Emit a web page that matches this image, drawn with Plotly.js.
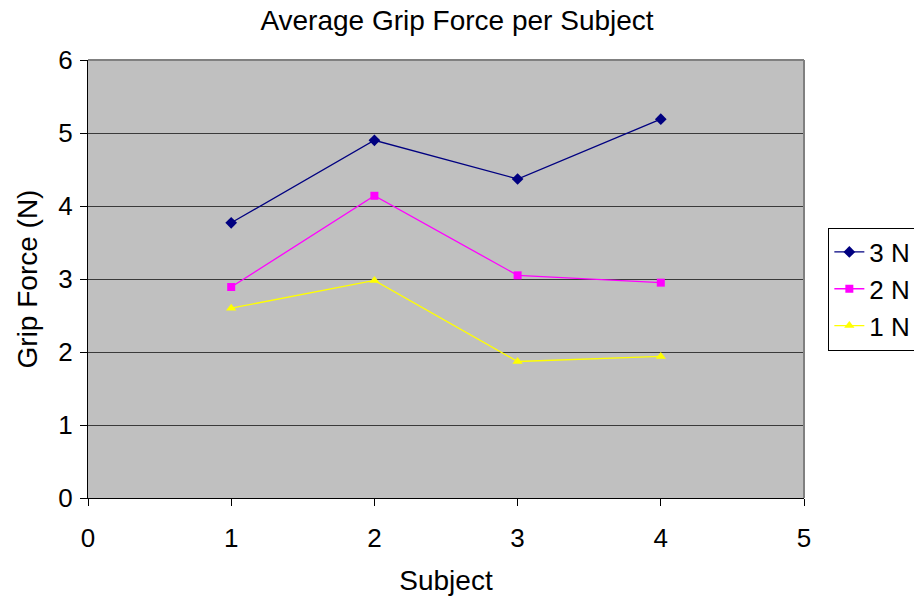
<!DOCTYPE html>
<html>
<head>
<meta charset="utf-8">
<script src="https://cdn.plot.ly/plotly-3.0.1.min.js"></script>
<style>
  html, body { margin: 0; padding: 0; background: #fff; }
  #chart { width: 914px; height: 598px; }
</style>
</head>
<body>
<div id="chart"></div>
<script>
// Average grip force per subject at three target force levels
const subjects = [1, 2, 3, 4];
const force3N = [3.77, 4.90, 4.37, 5.19];
const force2N = [2.89, 4.14, 3.05, 2.95];
const force1N = [2.60, 2.98, 1.87, 1.94];
const seriesNames = ['3 N', '2 N', '1 N'];
const xTicks = [0, 1, 2, 3, 4, 5];
const yTicks = [0, 1, 2, 3, 4, 5, 6];

const font = 'Liberation Sans, Arial, sans-serif';

function series(name, y, color, symbol, size) {
  return {
    x: subjects, y: y, name: name, type: 'scatter', mode: 'lines+markers',
    line: { color: color, width: 1.3 },
    marker: { color: color, symbol: symbol, size: size }
  };
}

const data = [
  series(seriesNames[0], force3N, '#000080', 'diamond', 9),
  series(seriesNames[1], force2N, '#FF00FF', 'square', 8),
  series(seriesNames[2], force1N, '#FFFF00', 'triangle-up', 9)
];

const layout = {
  width: 914, height: 598,
  paper_bgcolor: '#ffffff',
  plot_bgcolor: '#C0C0C0',
  margin: { l: 88, r: 110, t: 60, b: 100, autoexpand: false },
  font: { family: font, color: '#000', size: 26 },
  title: { text: 'Average Grip Force per Subject', font: { family: font, size: 28, color: '#000' },
           x: 0.5, xref: 'container', y: 0.966, yref: 'container', yanchor: 'middle' },
  xaxis: {
    range: [0, 5], tickvals: xTicks, ticktext: xTicks.map(String),
    showgrid: false, zeroline: false,
    showline: true, linecolor: '#000', linewidth: 1,
    ticks: 'outside', ticklen: 7, tickcolor: '#000', tickwidth: 1,
    ticklabelstandoff: 10,
    tickfont: { size: 26 },
    title: { text: 'Subject', font: { size: 28 }, standoff: 18 }
  },
  yaxis: {
    range: [0, 6], tickvals: yTicks, ticktext: yTicks.map(String),
    showgrid: true, gridcolor: '#3a3a3a', gridwidth: 1,
    zeroline: false,
    showline: true, linecolor: '#000', linewidth: 1,
    ticks: 'outside', ticklen: 7, tickcolor: '#000', tickwidth: 1,
    ticklabelstandoff: 2,
    tickfont: { size: 26 },
    title: { text: 'Grip Force (N)', font: { size: 28 }, standoff: 12 }
  },
  shapes: [
    { type: 'line', xref: 'paper', yref: 'paper', x0: 0, x1: 1, y0: 1, y1: 1,
      line: { color: '#808080', width: 2 }, layer: 'above' },
    { type: 'line', xref: 'paper', yref: 'paper', x0: 1, x1: 1, y0: 0, y1: 1,
      line: { color: '#808080', width: 2 }, layer: 'above' }
  ],
  legend: {
    x: 1.034, xanchor: 'left', y: 0.477, yanchor: 'middle',
    bgcolor: '#ffffff', bordercolor: '#000', borderwidth: 1,
    font: { size: 26 }, tracegroupgap: 0, itemwidth: 30
  },
  showlegend: true
};

Plotly.newPlot('chart', data, layout, { displayModeBar: false, staticPlot: true });
</script>
</body>
</html>
